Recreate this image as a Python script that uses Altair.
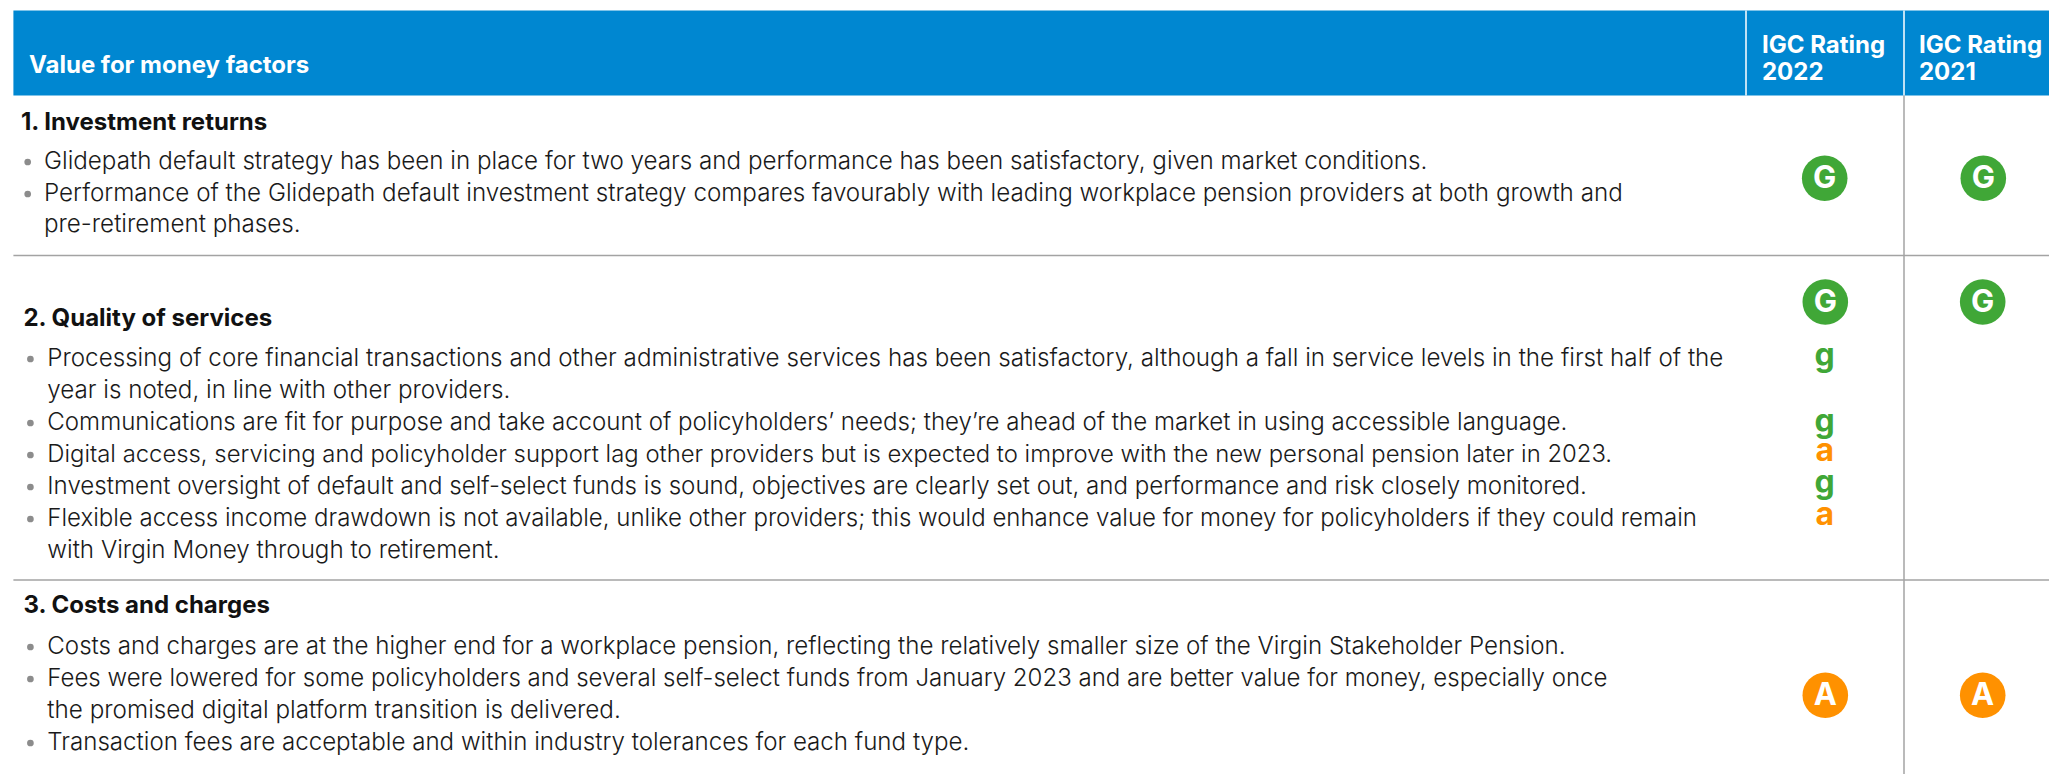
import altair as alt
import pandas as pd

FONT = "Inter"

# ---- content -------------------------------------------------------------
header_labels = ["Value for money factors", "IGC Rating", "2022", "IGC Rating", "2021"]
section_titles = ["1. Investment returns", "2. Quality of services", "3. Costs and charges"]
body_lines = [
    "Glidepath default strategy has been in place for two years and performance has been satisfactory, given market conditions.",
    "Performance of the Glidepath default investment strategy compares favourably with leading workplace pension providers at both growth and",
    "pre-retirement phases.",
    "Processing of core financial transactions and other administrative services has been satisfactory, although a fall in service levels in the first half of the",
    "year is noted, in line with other providers.",
    "Communications are fit for purpose and take account of policyholders’ needs; they’re ahead of the market in using accessible language.",
    "Digital access, servicing and policyholder support lag other providers but is expected to improve with the new personal pension later in 2023.",
    "Investment oversight of default and self-select funds is sound, objectives are clearly set out, and performance and risk closely monitored.",
    "Flexible access income drawdown is not available, unlike other providers; this would enhance value for money for policyholders if they could remain",
    "with Virgin Money through to retirement.",
    "Costs and charges are at the higher end for a workplace pension, reflecting the relatively smaller size of the Virgin Stakeholder Pension.",
    "Fees were lowered for some policyholders and several self-select funds from January 2023 and are better value for money, especially once",
    "the promised digital platform transition is delivered.",
    "Transaction fees are acceptable and within industry tolerances for each fund type.",
]
big_ratings = ["G", "G", "G", "G", "A", "A"]
small_ratings = ["g", "g", "a", "g", "a"]

# ---- layout (table grid, in the page's pixel space) ------------------------
header_x = [29, 1762, 1762, 1919, 1919]
header_y = [72.5, 53, 80, 53, 80]
title_x = [21, 23.5, 23.5]
title_y = [130, 326, 613]
body_x = [44, 44, 44] + [47.3] * 11
body_y = [169, 200.5, 232, 366, 398, 430, 461.7, 493.7, 525.7, 557.7, 654, 686, 718, 750]
body_size = [24.2, 24.2, 24.2, 24.2, 24.2, 24.1, 23.86, 24.12, 24.03, 24.2, 24.14, 24.04, 24.25, 24.13]
bullet_x = [27.7, 27.7, 30.4, 30.4, 30.4, 30.4, 30.4, 30.4, 30.4, 30.4]
bullet_y = [162, 194, 359, 423, 455, 487, 519, 647, 679, 743]
big_x = [1824.7, 1983.3, 1825.3, 1982.7, 1825.3, 1982.7]
big_y = [178.3, 178.3, 302, 302, 695.3, 695.3]
small_x = [1824.7] * 5
small_y = [366, 431.7, 461, 493, 525]
h_rule_y = [255.5, 580]
GREEN, ORANGE = "#40a737", "#ff9100"

X = alt.X("x:Q", scale=alt.Scale(domain=[8, 2049], nice=False, zero=False), axis=None)
Y = alt.Y("y:Q", scale=alt.Scale(domain=[774, 8], nice=False, zero=False), axis=None)


def text_layer(labels, xs, ys, **style):
    df = pd.DataFrame({"x": xs, "y": ys, "label": labels})
    return alt.Chart(df).mark_text(font=FONT, baseline="alphabetic", **style).encode(
        x=X, y=Y, text="label:N")


header_bg = alt.Chart(pd.DataFrame({"x": [13.4], "x2": [2049], "y": [10.5], "y2": [95.5]})).mark_rect(
    color="#0087d1").encode(x=X, x2="x2:Q", y=Y, y2="y2:Q")

header_div = alt.Chart(pd.DataFrame({"x": [1746, 1904], "y": [10.5, 10.5], "y2": [95.5, 95.5]})).mark_rule(
    color="#ffffff", strokeWidth=1.5).encode(x=X, y=Y, y2="y2:Q")

h_rules = alt.Chart(pd.DataFrame({"y": h_rule_y, "x": [13.4, 13.4], "x2": [2049, 2049]})).mark_rule(
    color="#a3a3a3", strokeWidth=1.5).encode(x=X, x2="x2:Q", y=Y)

v_rule = alt.Chart(pd.DataFrame({"x": [1904], "y": [95.5], "y2": [774]})).mark_rule(
    color="#a3a3a3", strokeWidth=1.5).encode(x=X, y=Y, y2="y2:Q")

bullets = alt.Chart(pd.DataFrame({"x": bullet_x, "y": bullet_y})).mark_point(
    filled=True, shape="circle", color="#8c8c8c", size=45, opacity=1).encode(x=X, y=Y)

big_df = pd.DataFrame({"x": big_x, "y": big_y, "r": big_ratings})
color = alt.Color("r:N", scale=alt.Scale(domain=["G", "A", "g", "a"], range=[GREEN, ORANGE, GREEN, ORANGE]), legend=None)
circles = alt.Chart(big_df).mark_point(filled=True, shape="circle", size=2079, opacity=1).encode(
    x=X, y=Y, color=color)
circle_text = alt.Chart(big_df).mark_text(font=FONT, fontWeight=700, fontSize=31, color="white",
                                          baseline="middle", dy=1).encode(x=X, y=Y, text="r:N")
small_df = pd.DataFrame({"x": small_x, "y": small_y, "r": small_ratings})
small_text = alt.Chart(small_df).mark_text(font=FONT, fontWeight=700, fontSize=32, baseline="alphabetic").encode(
    x=X, y=Y, text="r:N", color=color)

body_df = pd.DataFrame({"x": body_x, "y": body_y, "label": body_lines, "fs": body_size})
body_text = alt.Chart(body_df).mark_text(
    font=FONT, baseline="alphabetic", fontWeight=300, color="#1a1a1a", align="left"
).encode(x=X, y=Y, text="label:N", size=alt.Size("fs:Q", scale=None, legend=None))

chart = alt.layer(
    header_bg, header_div, h_rules, v_rule,
    text_layer(header_labels, header_x, header_y, fontSize=24, fontWeight=700, color="white", align="left"),
    text_layer(section_titles, title_x, title_y, fontSize=24, fontWeight=700, color="#111111", align="left"),
    body_text,
    bullets, circles, circle_text, small_text,
).properties(
    width=2041, height=766, padding=0, background="white",
    autosize=alt.AutoSizeParams(type="none"),
).configure_view(stroke=None)

chart.save("out.html", embed_options={
    "renderer": "svg", "actions": False,
    "defaultStyle": "html{overflow:hidden} body{width:2041px;margin:8px 0 0 8px;overflow:visible} "
                    "#vis.vega-embed{width:2041px;min-width:2041px;overflow:visible} "
                    "#vis.vega-embed>*{flex:none;overflow:visible} svg{max-width:none;overflow:visible}",
})
